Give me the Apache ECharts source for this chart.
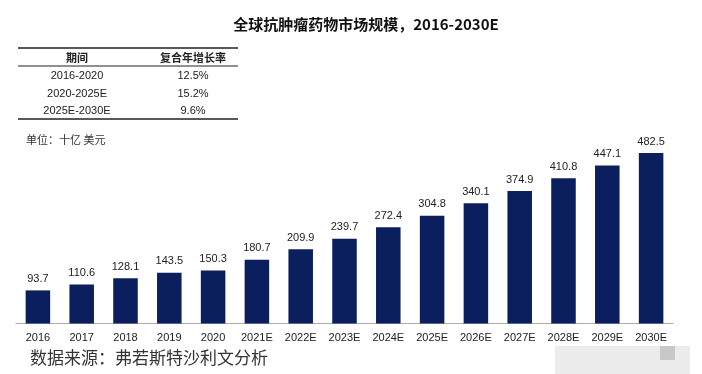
<!DOCTYPE html>
<html><head><meta charset="utf-8">
<script src="https://cdn.jsdelivr.net/npm/echarts@6/dist/echarts.min.js"></script>
<style>html,body{margin:0;padding:0;background:#fff}#c{width:702px;height:374px}</style>
</head><body><div id="c"></div>
<script>
const categories = ['2016','2017','2018','2019','2020','2021E','2022E','2023E','2024E','2025E','2026E','2027E','2028E','2029E','2030E'];
const marketSize = [93.7,110.6,128.1,143.5,150.3,180.7,209.9,239.7,272.4,304.8,340.1,374.9,410.8,447.1,482.5];
const tableHeader = ['期间','复合年增长率'];
const tablePeriods = ['2016-2020','2020-2025E','2025E-2030E'];
const tableRates = ['12.5%','15.2%','9.6%'];
const titleText = '全球抗肿瘤药物市场规模，2016-2030E';
const unitText = '单位：十亿 美元';
const sourceText = '数据来源：弗若斯特沙利文分析';

const font = '"Liberation Sans", Arial, "Noto Sans CJK SC", sans-serif';
const cjk = '"Noto Sans CJK SC", sans-serif';
const chart = echarts.init(document.getElementById('c'));

const col1 = 77, col2 = 193, tx0 = 18, tx1 = 238;
const rowY = [76, 94, 111];
const g = [];
g.push({type:'line', shape:{x1:tx0,y1:48,x2:tx1,y2:48}, style:{stroke:'#222', lineWidth:1.5}});
g.push({type:'line', shape:{x1:tx0,y1:66,x2:tx1,y2:66}, style:{stroke:'#222', lineWidth:1}});
g.push({type:'line', shape:{x1:tx0,y1:119,x2:tx1,y2:119}, style:{stroke:'#222', lineWidth:1.5}});
g.push({type:'text', x:col1, y:58, style:{text:tableHeader[0], font:'bold 11px '+cjk, fill:'#222', align:'center', verticalAlign:'middle'}});
g.push({type:'text', x:col2, y:58, style:{text:tableHeader[1], font:'bold 11px '+cjk, fill:'#222', align:'center', verticalAlign:'middle'}});
tablePeriods.forEach((p,i)=>{
  g.push({type:'text', x:col1, y:rowY[i], style:{text:p, font:'11px '+font, fill:'#222', align:'center', verticalAlign:'middle'}});
  g.push({type:'text', x:col2, y:rowY[i], style:{text:tableRates[i], font:'11px '+font, fill:'#222', align:'center', verticalAlign:'middle'}});
});
g.push({type:'text', x:26, y:140, style:{text:unitText, font:'11px '+cjk, fill:'#333', verticalAlign:'middle'}});
g.push({type:'text', x:30, y:358, style:{text:sourceText, font:'17px '+cjk, fill:'#333', verticalAlign:'middle'}});
g.push({type:'rect', shape:{x:555,y:346,width:135,height:28}, style:{fill:'#ececec'}});
g.push({type:'rect', shape:{x:660,y:346,width:15,height:14}, style:{fill:'#c8c8c8'}});

chart.setOption({
  animation:false,
  backgroundColor:'#fff',
  title:{text:titleText, left:361, textAlign:'center', top:12, textStyle:{fontFamily:cjk, fontSize:15, fontWeight:'bold', color:'#111'}},
  grid:{left:16, right:29, top:111.5, bottom:50.5},
  xAxis:{type:'category', data:categories,
    axisLine:{lineStyle:{color:'#aaa'}}, axisTick:{show:false},
    axisLabel:{fontFamily:font, fontSize:11, color:'#222', margin:9, interval:0}},
  yAxis:{type:'value', min:0, max:600, show:false, splitLine:{show:false}},
  series:[{type:'bar', data:marketSize, barWidth:'56%',
    itemStyle:{color:'#0b1f5e'},
    label:{show:true, position:'top', distance:6, fontFamily:font, fontSize:11, color:'#222'}}],
  graphic:g
});
</script></body></html>
